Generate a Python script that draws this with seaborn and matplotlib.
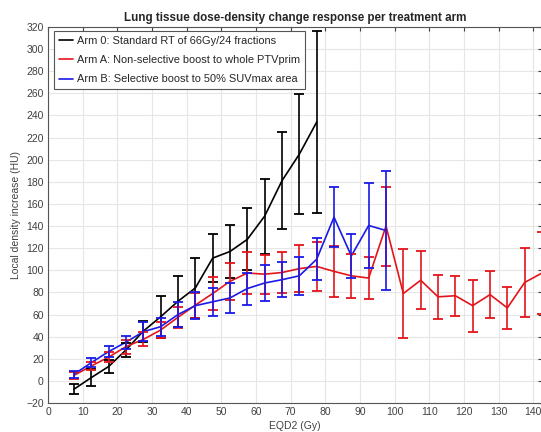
import numpy as np
import pandas as pd
import matplotlib
matplotlib.use("Agg")
import matplotlib.pyplot as plt
import seaborn as sns

# Dose bins (EQD2, Gy) and per-arm mean density increase with error half-widths (HU)
dose_arm0 = [7.5, 12.5, 17.5, 22.5, 27.5, 32.5, 37.5, 42.5, 47.5, 52.5, 57.5, 62.5, 67.5, 72.5, 77.5]
mean_arm0 = [-7.5, 3, 13, 28, 45, 58, 72, 84, 111, 117, 128, 149, 181, 205, 234]
err_arm0 = [4.5, 7.5, 6, 6.5, 9.5, 19, 23, 27, 22, 24, 28, 34, 44, 54, 82]

dose_armA = [7.5, 12.5, 17.5, 22.5, 27.5, 32.5, 37.5, 42.5, 47.5, 52.5, 57.5, 62.5, 67.5, 72.5,
             77.5, 82.5, 87.5, 92.5, 97.5, 102.5, 107.5, 112.5, 117.5, 122.5, 127.5, 132.5,
             137.5, 142.5]
mean_armA = [5, 13.5, 21.5, 31, 37.5, 46, 57.5, 68.5, 79, 90, 97.5, 96.5, 98, 101.5,
             103.5, 99, 95, 93, 140, 79, 91, 76, 77, 68, 78, 66, 89, 97.5]
err_armA = [3, 3.6, 4.5, 6.3, 6.4, 7, 9.7, 11.3, 14.7, 16.5, 18.7, 17.5, 18.5, 21.2,
            22.2, 22.8, 20, 18.7, 35.7, 40.5, 26.2, 20.1, 18.1, 23.5, 21.2, 19, 31.2, 37]

dose_armB = [7.5, 12.5, 17.5, 22.5, 27.5, 32.5, 37.5, 42.5, 47.5, 52.5, 57.5, 62.5, 67.5, 72.5,
             77.5, 82.5, 87.5, 92.5, 97.5]
mean_armB = [6, 16.5, 26.5, 35, 44.5, 49, 60, 68, 71.5, 75, 83.5, 88.5, 91.5, 95,
             110, 148, 113, 140.5, 136]
err_armB = [3, 4.2, 4.6, 5.8, 8.6, 8.2, 11.1, 12, 12.5, 13.2, 14.5, 16, 16, 17,
            19, 27, 19.8, 38.8, 54]

labels = ["Arm 0: Standard RT of 66Gy/24 fractions",
          "Arm A: Non-selective boost to whole PTVprim",
          "Arm B: Selective boost to 50% SUVmax area"]
colors = ["#000000", "#e3151b", "#1a1ae6"]

x_ticks = list(range(0, 141, 10))
y_ticks = list(range(-20, 321, 20))

arms = [(dose_arm0, mean_arm0, err_arm0), (dose_armA, mean_armA, err_armA),
        (dose_armB, mean_armB, err_armB)]

frames = []
for lab, (d, m, e) in zip(labels, arms):
    frames.append(pd.DataFrame({"dose": d, "mean": m, "err": e, "arm": lab}))
df = pd.concat(frames, ignore_index=True)

sns.set_style("whitegrid")
plt.rcParams["font.family"] = ["Liberation Sans", "DejaVu Sans"]

W, H = 541, 432
fig = plt.figure(figsize=(W / 100, H / 100), dpi=100)
ax = fig.add_axes([48 / W, (H - 403) / H, (542 - 48) / W, (403 - 27) / H])

sns.lineplot(data=df, x="dose", y="mean", hue="arm", hue_order=labels,
             palette=colors, linewidth=1.2, ax=ax, legend=True, sort=False,
             estimator=None, zorder=3)

for lab, col in zip(labels, colors):
    sub = df[df["arm"] == lab]
    ax.errorbar(sub["dose"], sub["mean"], yerr=sub["err"], fmt="none",
                ecolor=col, elinewidth=1.2, capsize=3.4, capthick=1.3, zorder=3)

ax.set_xlim(0, 142.5)
ax.set_ylim(-20, 320)
ax.set_xticks(x_ticks)
ax.set_yticks(y_ticks)
ax.grid(True, color="#e6e6e6", linewidth=0.8)
ax.tick_params(axis="both", direction="in", length=3, labelsize=7.5,
               colors="#404040", top=True, right=True, pad=3)
for s in ax.spines.values():
    s.set_color("#555555")
    s.set_linewidth(0.8)

ax.set_title("Lung tissue dose-density change response per treatment arm",
             fontsize=8.4, fontweight="bold", pad=4)
ax.set_xlabel("EQD2 (Gy)", fontsize=7.5, color="#404040", labelpad=3)
ax.set_ylabel("Local density increase (HU)", fontsize=7.5, color="#404040", labelpad=4)

leg = ax.legend(loc="upper left", bbox_to_anchor=(0.012, 0.99), fontsize=7.9,
                frameon=True, fancybox=False, handlelength=1.3, handletextpad=0.35,
                borderpad=0.45, labelspacing=0.85, borderaxespad=0.0)
leg.get_frame().set_edgecolor("#555555")
leg.get_frame().set_linewidth(0.8)
leg.get_frame().set_alpha(1)

fig.savefig("out.png", dpi=100)
